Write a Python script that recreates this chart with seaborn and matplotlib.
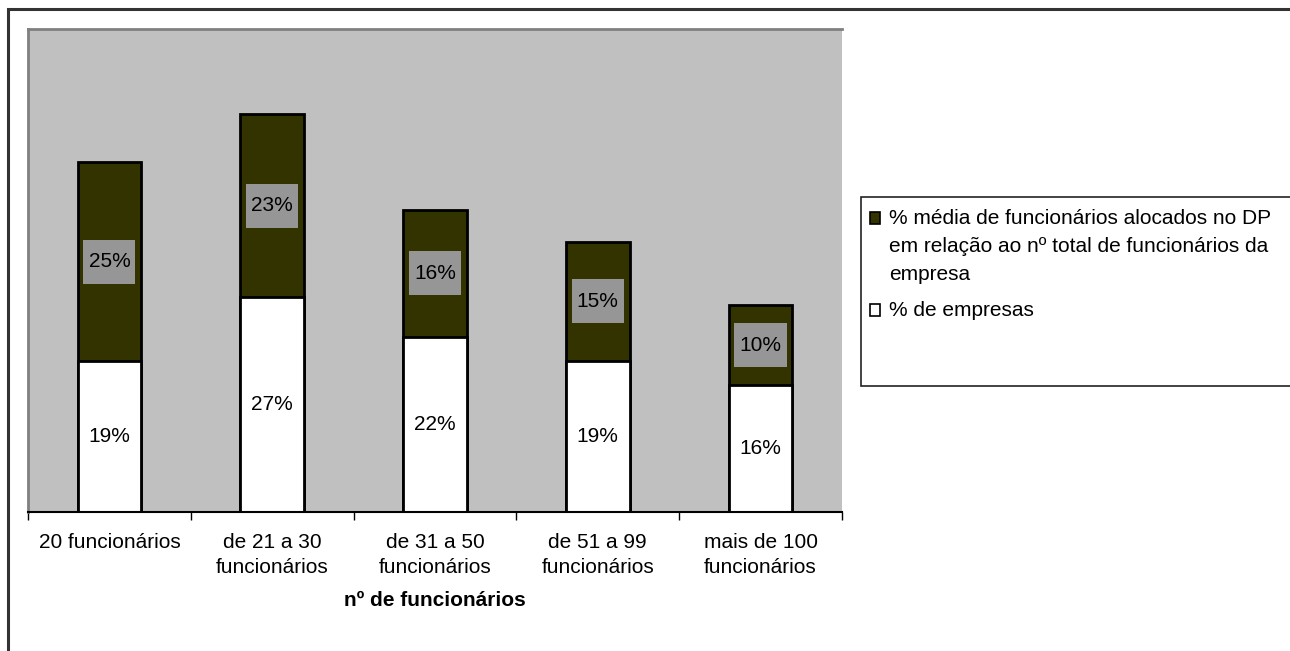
import matplotlib
matplotlib.use("Agg")
import matplotlib.pyplot as plt
import seaborn as sns
import pandas as pd
import numpy as np
from matplotlib.patches import Patch, Rectangle
from matplotlib.path import Path

# Company size groups and the two stacked series (in %)
faixas = ["20 funcionários", "de 21 a 30\nfuncionários", "de 31 a 50\nfuncionários",
          "de 51 a 99\nfuncionários", "mais de 100\nfuncionários"]
pct_empresas = [19, 27, 22, 19, 16]
pct_media_dp = [25, 23, 16, 15, 10]

serie_dp = "% média de funcionários alocados no DP\nem relação ao nº total de funcionários da\nempresa"
serie_emp = "% de empresas"
eixo_x = "nº de funcionários"

COR_DP = "#333300"
COR_FUNDO = "#C0C0C0"
COR_ROTULO = "#969696"
FS = 15

sns.set_style("white")
plt.rcParams["font.family"] = ["Liberation Sans", "DejaVu Sans"]
plt.rcParams["text.color"] = "black"
plt.rcParams["xtick.color"] = "black"
plt.rcParams["axes.labelcolor"] = "black"

df = pd.DataFrame({"faixa": faixas, "empresas": pct_empresas, "media_dp": pct_media_dp})
df["total"] = df["empresas"] + df["media_dp"]

W, H = 1290, 651
fig = plt.figure(figsize=(W / 100, H / 100), dpi=100)
fig.patch.set_facecolor("white")

# outer chart frame
fig.patches.append(Rectangle((8 / W, -0.05), 1.1, 1 - 9 / H + 0.05, transform=fig.transFigure,
                             facecolor="none", edgecolor="#333333", linewidth=2.2))

ax = fig.add_axes([28 / W, 1 - 512 / H, (842 - 28) / W, (512 - 29) / H])
ax.set_facecolor(COR_FUNDO)

# stacked bars: full height in dark, lower part in white on top
sns.barplot(data=df, x="faixa", y="total", color=COR_DP, width=0.39, edgecolor="black",
            linewidth=2, saturation=1, errorbar=None, ax=ax)
sns.barplot(data=df, x="faixa", y="empresas", color="white", width=0.39, edgecolor="black",
            linewidth=2, saturation=1, errorbar=None, ax=ax)


def caixa_rotulo(x0, y0, width, height, mutation_size):
    px = 0.25 * mutation_size
    py = 0.6 * mutation_size
    return Path([(x0 - px, y0 - py), (x0 + width + px, y0 - py),
                 (x0 + width + px, y0 + height + py), (x0 - px, y0 + height + py),
                 (x0 - px, y0 - py)], closed=True)


for i, (e, m) in enumerate(zip(pct_empresas, pct_media_dp)):
    ax.text(i, e / 2, f"{e}%", ha="center", va="center", fontsize=FS, color="black")
    ax.text(i, e + m / 2, f"{m}%", ha="center", va="center", fontsize=FS, color="black",
            bbox=dict(boxstyle=caixa_rotulo, facecolor=COR_ROTULO, edgecolor="none"))

ax.set_xlim(-0.5, 4.5)
ax.set_ylim(0, 60.75)
ax.set_yticks([])
ax.set_ylabel("")
ax.set_xticks(np.arange(len(faixas)))
ax.set_xticklabels(faixas, fontsize=FS, linespacing=1.42, color="black")
ax.set_xticks(np.arange(-0.5, len(faixas), 1), minor=True)
ax.tick_params(axis="x", which="both", bottom=True)
ax.tick_params(axis="x", which="major", length=0, pad=15)
ax.tick_params(axis="x", which="minor", length=6, width=1, color="black", direction="out")
ax.set_xlabel(eixo_x, fontsize=FS, fontweight="bold", labelpad=10, color="black")

for s in ["top", "left"]:
    ax.spines[s].set_color("#808080")
    ax.spines[s].set_linewidth(2)
ax.spines["right"].set_visible(False)
ax.spines["bottom"].set_color("black")
ax.spines["bottom"].set_linewidth(1.5)

# legend box
fig.patches.append(Rectangle((861 / W, 1 - 386 / H), 1.0, (386 - 197) / H, transform=fig.transFigure,
                             facecolor="white", edgecolor="#222222", linewidth=1.2))
handles = [Patch(facecolor=COR_DP, edgecolor="black", linewidth=1.2),
           Patch(facecolor="white", edgecolor="black", linewidth=1.2)]
leg = fig.legend(handles, [serie_dp, serie_emp], loc="upper left",
                 bbox_to_anchor=(870 / W, 1 - 209 / H), frameon=False, fontsize=FS,
                 handlelength=0.48, handleheight=0.48, handletextpad=0.45,
                 labelspacing=0.8, borderpad=0, borderaxespad=0)
for t in leg.get_texts():
    t.set_linespacing(1.6)
    t.set_color("black")
for col in leg._legend_handle_box.get_children():
    for item in col.get_children():
        item.align = "top"
        item.get_children()[0].height += 2.5

fig.savefig("out.png", dpi=100)
